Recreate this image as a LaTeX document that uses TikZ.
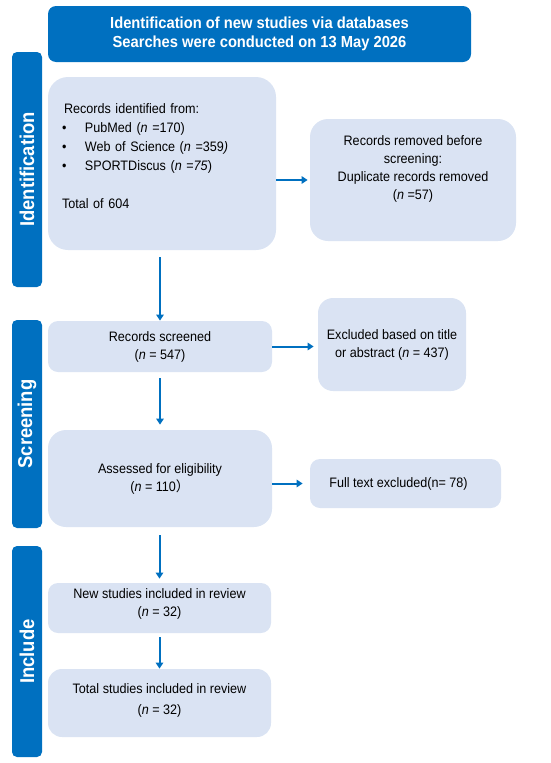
\documentclass[tikz,border=0pt]{standalone}
\usepackage{fontspec}
\setmainfont[FakeStretch=0.92]{Liberation Sans}
\newfontfamily\cjk{Noto Sans CJK SC}
\usetikzlibrary{arrows.meta}
\definecolor{barblue}{HTML}{0070C0}
\definecolor{boxblue}{HTML}{DAE3F3}
\newcommand{\dn}[1]{\rule[-#1]{0pt}{0pt}}
\newcommand{\bul}{\makebox[23pt][l]{\textbullet}}

\begin{document}
\begin{tikzpicture}[x=1pt,y=-1pt,>={Triangle[length=6pt,width=7.5pt]},thick,
  main box/.style={fill=boxblue,rounded corners=10pt,inner sep=0pt,align=center,font=\fontsize{13.7}{18}\selectfont},
  side bar/.style={fill=barblue,rounded corners=5pt,minimum height=30pt,inner sep=0pt,rotate=90,text=white,font=\fontsize{20}{22}\selectfont\bfseries},
  arrow/.style={->,draw=barblue,line width=2pt}]

            \useasboundingbox (0,0) rectangle (550,763);

            \node[fill=barblue, rounded corners=8pt, minimum width=423pt, minimum height=56pt, inner sep=0pt, text=white, align=center, font=\fontsize{16}{19}\selectfont\bfseries] (0) at (259.5,34) {Identification of new studies via databases\\Searches were conducted on 13 May 2026};

            \node[side bar, minimum width=235pt] (9) at (27,169.5) {Identification};
            \node[side bar, minimum width=208pt] (10) at (27,424) {Screening};
            \node[side bar, minimum width=211pt] (11) at (27,651.5) {Include};

            \node[main box, rounded corners=20pt, minimum width=228pt, minimum height=173pt, text width=200pt, align=left, font=\fontsize{13.7}{19}\selectfont] (1) at (162,163.5) {\hspace*{2pt}Records identified from:\\
              \bul PubMed (\textit{n} =170)\\
              \bul Web of Science (\textit{n} =359\textit{)}\\
              \bul SPORTDiscus (\textit{n} =\textit{75})\\[19pt]
              Total of 604\dn{14pt}};
            \node[main box, rounded corners=18pt, minimum width=206pt, minimum height=122pt] (2) at (413,180) {Records removed before\\screening:\\Duplicate records removed\\(\textit{n} =57)\dn{24pt}};
            \node[main box, minimum width=224pt, minimum height=51pt] (3) at (160,346.5) {Records screened\\(\textit{n} = 547)};
            \node[main box, rounded corners=15pt, minimum width=148pt, minimum height=93pt] (4) at (392,344.5) {Excluded based on title\\or abstract (\textit{n} = 437)};
            \node[main box, rounded corners=18pt, minimum width=224pt, minimum height=97pt] (5) at (160,478.5) {Assessed for eligibility\\(\textit{n} = 110{\cjk ）}};
            \node[main box, minimum width=191pt, minimum height=49pt] (6) at (405.5,483.5) {Full text excluded(n= 78)\hspace*{14pt}};
            \node[main box, minimum width=223pt, minimum height=50pt] (7) at (159.5,608) {New studies included in review\\(\textit{n} = 32)\dn{11pt}};
            \node[main box, rounded corners=14pt, minimum width=223pt, minimum height=68pt] (8) at (159.5,703) {Total studies included in review\\[3pt](\textit{n} = 32)\dn{7pt}};

            \draw[arrow, shorten <=7pt] (3.north |- 1.south) to (3.north);
            \draw[arrow, shorten <=6pt, shorten >=5pt] (3) to (5);
            \draw[arrow, shorten <=8pt, shorten >=4pt] (7.north |- 5.south) to (7.north);
            \draw[arrow, shorten <=4pt] (7) to (8);
            \draw[arrow, shorten >=2pt] (1.east |- 2.west) to (2.west);
            \draw[arrow, shorten >=4pt] (3.east) to (3.east -| 4.west);
            \draw[arrow, shorten >=7pt] (5.east |- 6.west) to (6.west);

            ;
        \end{tikzpicture}
\end{document}
